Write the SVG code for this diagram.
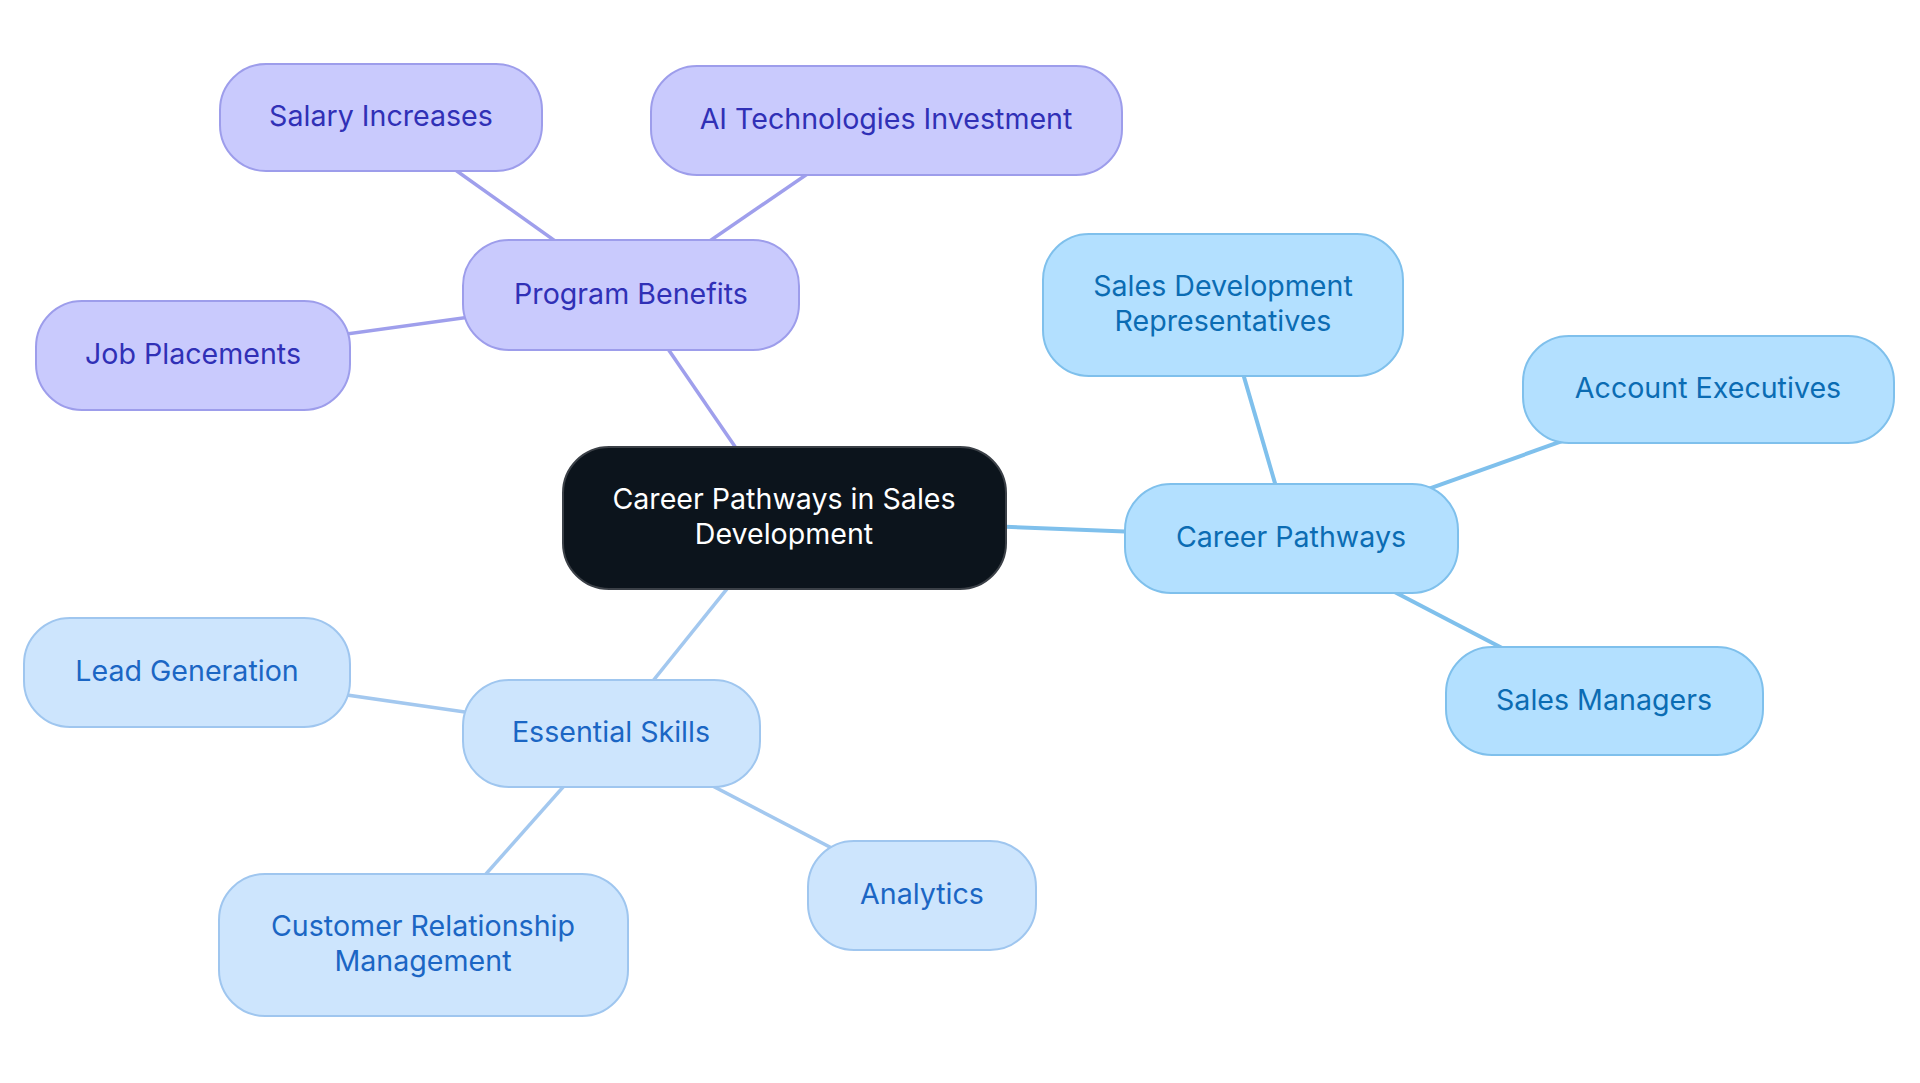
<svg xmlns="http://www.w3.org/2000/svg" width="1920" height="1083" viewBox="0 0 1920 1083">
<style>
text{font-family:Inter,"Noto Sans","DejaVu Sans",sans-serif;font-size:28.6px;text-anchor:middle;dominant-baseline:central}
.root rect{fill:#0c141c;stroke:#3b4047;stroke-width:2}
.root text{fill:#ffffff}
.pb rect{fill:#c9cafd;stroke:#9d9deb;stroke-width:2}
.pb text{fill:#3030b6}
.cp rect{fill:#b3e0ff;stroke:#7fc0ec;stroke-width:2}
.cp text{fill:#0b6cb3}
.es rect{fill:#cde5fd;stroke:#9fc6ef;stroke-width:2}
.es text{fill:#1b66c4}
.l-pb{stroke:#9f9fec;stroke-width:3.5}
.l-cp{stroke:#7fc0ec;stroke-width:4}
.l-es{stroke:#a3c8ef;stroke-width:3.5}
</style>
<rect width="1920" height="1083" fill="#ffffff"/>
<g id="connectors">
<line class="l-pb" x1="784" y1="518" x2="631" y2="295"/>
<line class="l-pb" x1="631" y1="295" x2="381" y2="117"/>
<line class="l-pb" x1="631" y1="295" x2="886" y2="120"/>
<line class="l-pb" x1="631" y1="295" x2="193" y2="355"/>
<line class="l-cp" x1="784" y1="518" x2="1291" y2="538"/>
<line class="l-cp" x1="1291" y1="538" x2="1223" y2="305"/>
<line class="l-cp" x1="1291" y1="538" x2="1708" y2="389"/>
<line class="l-cp" x1="1291" y1="538" x2="1604" y2="701"/>
<line class="l-es" x1="784" y1="518" x2="611" y2="733"/>
<line class="l-es" x1="611" y1="733" x2="187" y2="672"/>
<line class="l-es" x1="611" y1="733" x2="423" y2="945"/>
<line class="l-es" x1="611" y1="733" x2="922" y2="895"/>
</g>
<g id="root" class="root"><rect x="563" y="447" width="443" height="142" rx="46"/><text x="784" y="498">Career Pathways in Sales</text><text x="784" y="533">Development</text></g>
<g id="program-benefits" class="pb"><rect x="463" y="240" width="336" height="110" rx="46"/><text x="631" y="293">Program Benefits</text></g>
<g id="salary-increases" class="pb"><rect x="220" y="64" width="322" height="107" rx="46"/><text x="381" y="115">Salary Increases</text></g>
<g id="ai-technologies" class="pb"><rect x="651" y="66" width="471" height="109" rx="46"/><text x="886" y="118">AI Technologies Investment</text></g>
<g id="job-placements" class="pb"><rect x="36" y="301" width="314" height="109" rx="46"/><text x="193" y="353">Job Placements</text></g>
<g id="career-pathways" class="cp"><rect x="1125" y="484" width="333" height="109" rx="46"/><text x="1291" y="536">Career Pathways</text></g>
<g id="sdr" class="cp"><rect x="1043" y="234" width="360" height="142" rx="46"/><text x="1223" y="285">Sales Development</text><text x="1223" y="320">Representatives</text></g>
<g id="account-executives" class="cp"><rect x="1523" y="336" width="371" height="107" rx="46"/><text x="1708" y="387">Account Executives</text></g>
<g id="sales-managers" class="cp"><rect x="1446" y="647" width="317" height="108" rx="46"/><text x="1604" y="699">Sales Managers</text></g>
<g id="essential-skills" class="es"><rect x="463" y="680" width="297" height="107" rx="46"/><text x="611" y="731">Essential Skills</text></g>
<g id="lead-generation" class="es"><rect x="24" y="618" width="326" height="109" rx="46"/><text x="187" y="670">Lead Generation</text></g>
<g id="crm" class="es"><rect x="219" y="874" width="409" height="142" rx="46"/><text x="423" y="925">Customer Relationship</text><text x="423" y="960">Management</text></g>
<g id="analytics" class="es"><rect x="808" y="841" width="228" height="109" rx="46"/><text x="922" y="893">Analytics</text></g>
</svg>
